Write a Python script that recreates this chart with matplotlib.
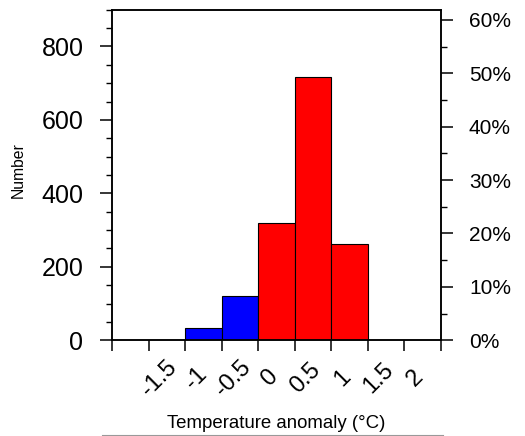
import numpy as np
import matplotlib
matplotlib.use("Agg")
import matplotlib.pyplot as plt
from matplotlib.lines import Line2D
from matplotlib.ticker import FixedLocator, MultipleLocator, FuncFormatter
from matplotlib.transforms import ScaledTranslation

plt.rcParams["font.family"] = ["Liberation Sans", "DejaVu Sans"]

# histogram of temperature anomalies
bin_edges = [-1.0, -0.5, 0.0, 0.5, 1.0, 1.5]
counts = [34, 121, 320, 718, 261]
tick_values = [-2.0, -1.5, -1.0, -0.5, 0.0, 0.5, 1.0, 1.5, 2.0, 2.5]
tick_labels = ["", "-1.5", "-1", "-0.5", "0", "0.5", "1", "1.5", "2", ""]

edges = np.array(bin_edges)
counts = np.array(counts)
total = counts.sum()
colors = ["blue" if hi <= 0 else "red" for hi in edges[1:]]

fig = plt.figure(figsize=(5.25, 4.36), dpi=100)
ax = fig.add_axes([112 / 525, 1 - 340.3 / 436, 329 / 525, 330.6 / 436])

ax.bar(edges[:-1], counts, width=np.diff(edges), align="edge",
       color=colors, edgecolor="black", linewidth=0.8, zorder=2)

ax.set_xlim(-2.0, 2.5)
ax.set_ylim(0, 900)

for sp in ax.spines.values():
    sp.set_linewidth(1.1)

# left axis: counts
ax.yaxis.set_major_locator(MultipleLocator(200))
ax.yaxis.set_minor_locator(MultipleLocator(50))
ax.yaxis.set_major_formatter(FuncFormatter(lambda v, p: "%d" % v if v <= 800 else ""))
ax.tick_params(axis="y", which="major", direction="out", length=8.6, width=1.1,
               labelsize=18, pad=12)
ax.tick_params(axis="y", which="minor", direction="out", length=4.3, width=1.0)

# bottom axis: rotated labels
ax.xaxis.set_major_locator(FixedLocator(tick_values))
ax.set_xticklabels(tick_labels)
ax.tick_params(axis="x", which="major", direction="out", length=8, width=1.1,
               labelsize=17, pad=19.5)
shift = ScaledTranslation(0.11, 0, fig.dpi_scale_trans)
for lab in ax.get_xticklabels():
    lab.set_rotation(45)
    lab.set_ha("center")
    lab.set_va("center")
    lab.set_transform(lab.get_transform() + shift)

ax.set_ylabel("Number", fontsize=11.3)
ax.yaxis.set_label_coords(-0.262, 0.515)
ax.set_xlabel("Temperature anomaly (\u00b0C)", fontsize=13.4)
ax.xaxis.set_label_coords(0.5, -0.226)

# right axis: percentage of all samples
ax2 = ax.twinx()
ax2.set_ylim(0, 900 / total * 100)
ax2.yaxis.set_major_locator(MultipleLocator(10))
ax2.yaxis.set_minor_locator(MultipleLocator(5))
ax2.yaxis.set_major_formatter(FuncFormatter(lambda v, p: "%d%%" % v))
ax2.tick_params(axis="y", which="major", direction="out", length=8.6, width=1.1,
                labelsize=15, pad=11.5)
ax2.tick_params(axis="y", which="minor", direction="out", length=4.3, width=1.0)
for sp in ax2.spines.values():
    sp.set_linewidth(1.1)

fig.add_artist(Line2D([102 / 525, 443 / 525], [0.6 / 436, 0.6 / 436],
                      color="#999999", linewidth=0.8))

fig.savefig("out.png", dpi=100)
